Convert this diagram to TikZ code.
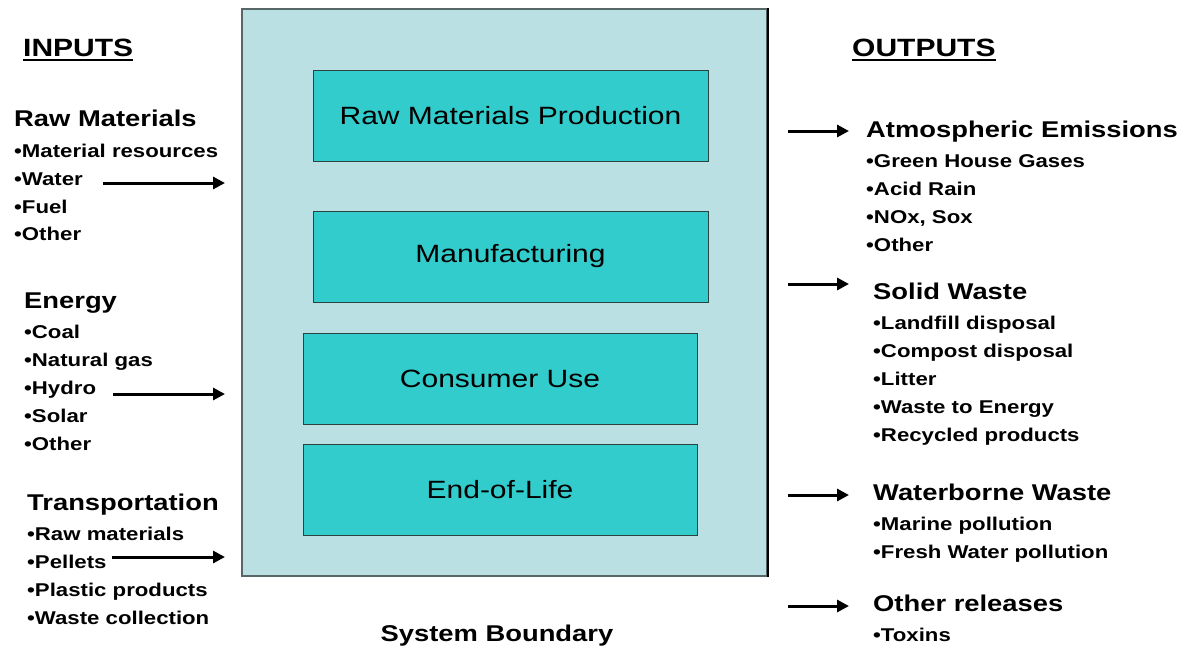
\documentclass[tikz,border=0pt]{standalone}
\usepackage{fontspec}
\setmainfont{Liberation Sans}[FakeStretch=1.2]
\usetikzlibrary{arrows.meta}
\definecolor{bound}{RGB}{187,224,227}
\definecolor{stage}{RGB}{51,204,204}
\definecolor{edgec}{RGB}{45,65,65}
\begin{document}
\begin{tikzpicture}[x=1pt,y=-1pt,
  hdr/.style={anchor=base west, inner sep=0pt, font=\bfseries\fontsize{22.8}{27}\selectfont},
  ttl/.style={anchor=base west, inner sep=0pt, font=\bfseries\fontsize{25}{30}\selectfont},
  itm/.style={anchor=base west, inner sep=0pt, font=\bfseries\fontsize{18.5}{22}\selectfont},
  stagebox/.style={draw=edgec, line width=1pt, fill=stage, minimum width=395pt, minimum height=91pt, inner sep=0pt, font=\fontsize{25}{30}\selectfont},
  flow/.style={line width=3pt, -{Triangle[length=12pt,width=12pt]}},
  uline/.style={line width=2.8pt}]
\useasboundingbox (0,0) rectangle (1185,649);

% system boundary
\node[draw=edgec!80, line width=1.2pt, fill=bound, minimum width=525pt, minimum height=567pt, inner sep=0pt] (sys) at (504.5,292.5) {};
\draw[line width=2pt] (sys.north east) -- (sys.south east);
\node[hdr, anchor=base] (sysl) at (497,641) {System Boundary};

% stages
\node[stagebox] (rmp) at (510.5,115.5) {Raw Materials Production};
\node[stagebox] (man) at (510.5,256.5) {Manufacturing};
\node[stagebox, minimum width=394pt] (cu) at (500,378.5) {Consumer Use};
\node[stagebox, minimum width=394pt] (eol) at (500,489.5) {End-of-Life};

% inputs
\node[ttl] (inp) at (23,56) {INPUTS};
\draw[uline] ([yshift=-4pt]inp.base west) -- ([yshift=-4pt]inp.base east);

\node[hdr] (rm) at (14,126) {Raw Materials};
\node[itm] (rm1) at (14,157) {•Material resources};
\node[itm] (rm2) at (14,185) {•Water};
\node[itm] (rm3) at (14,213) {•Fuel};
\node[itm] (rm4) at (14,240) {•Other};

\node[hdr] (en) at (24,308) {Energy};
\node[itm] (en1) at (24,338) {•Coal};
\node[itm] (en2) at (24,366) {•Natural gas};
\node[itm] (en3) at (24,394) {•Hydro};
\node[itm] (en4) at (24,422) {•Solar};
\node[itm] (en5) at (24,450) {•Other};

\node[hdr] (tr) at (27,510) {Transportation};
\node[itm] (tr1) at (27,540) {•Raw materials};
\node[itm] (tr2) at (27,568) {•Pellets};
\node[itm] (tr3) at (27,596) {•Plastic products};
\node[itm] (tr4) at (27,624) {•Waste collection};

\coordinate (a1s) at (103,183); \coordinate (a1e) at (225,183);
\coordinate (a2s) at (113,394); \coordinate (a2e) at (225,394);
\coordinate (a3s) at (112,557); \coordinate (a3e) at (225,557);
\draw[flow] (a1s) -- (a1e);
\draw[flow] (a2s) -- (a2e);
\draw[flow] (a3s) -- (a3e);

% outputs
\node[ttl] (outp) at (852,56) {OUTPUTS};
\draw[uline] ([yshift=-4pt]outp.base west) -- ([yshift=-4pt]outp.base east);

\node[hdr] (ae) at (866,137) {Atmospheric Emissions};
\node[itm] (ae1) at (866,167) {•Green House Gases};
\node[itm] (ae2) at (866,195) {•Acid Rain};
\node[itm] (ae3) at (866,223) {•NOx, Sox};
\node[itm] (ae4) at (866,251) {•Other};

\node[hdr] (sw) at (873,299) {Solid Waste};
\node[itm] (sw1) at (873,329) {•Landfill disposal};
\node[itm] (sw2) at (873,357) {•Compost disposal};
\node[itm] (sw3) at (873,385) {•Litter};
\node[itm] (sw4) at (873,413) {•Waste to Energy};
\node[itm] (sw5) at (873,441) {•Recycled products};

\node[hdr] (ww) at (873,500) {Waterborne Waste};
\node[itm] (ww1) at (873,530) {•Marine pollution};
\node[itm] (ww2) at (873,558) {•Fresh Water pollution};

\node[hdr] (orl) at (873,611) {Other releases};
\node[itm] (or1) at (873,641) {•Toxins};

\coordinate (b1s) at (788,131); \coordinate (b1e) at (849,131);
\coordinate (b2s) at (788,284); \coordinate (b2e) at (849,284);
\coordinate (b3s) at (788,495); \coordinate (b3e) at (849,495);
\coordinate (b4s) at (788,606); \coordinate (b4e) at (849,606);
\draw[flow] (b1s) -- (b1e);
\draw[flow] (b2s) -- (b2e);
\draw[flow] (b3s) -- (b3e);
\draw[flow] (b4s) -- (b4e);
\end{tikzpicture}
\end{document}
